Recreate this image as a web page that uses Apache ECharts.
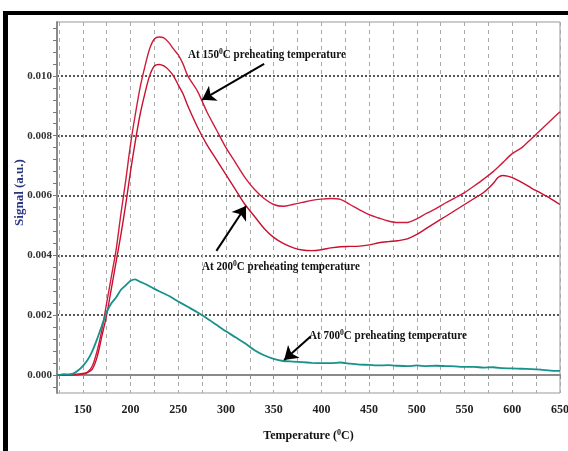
<!DOCTYPE html>
<html>
<head>
<meta charset="utf-8">
<script src="https://cdn.jsdelivr.net/npm/echarts@6/dist/echarts.min.js"></script>
<style>
  html, body { margin: 0; padding: 0; background: #fff; }
  #chart { width: 568px; height: 451px; }
</style>
</head>
<body>
<div id="chart"></div>
<script>
  // 温度 (°C) 与信号值
  const temp150 = [123, 130, 140, 150, 155, 160, 165, 170, 175, 180, 185, 190, 195, 200, 205, 210, 215, 220, 225, 230, 235, 240, 245, 250, 255, 260, 270, 280, 290, 300, 310, 320, 330, 340, 350, 360, 370, 380, 390, 400, 410, 420, 430, 440, 450, 460, 470, 480, 490, 500, 510, 520, 530, 540, 550, 560, 570, 580, 590, 600, 610, 620, 630, 640, 650];
  const signal150 = [0.00001, 0.00001, 0.00002, 0.00005, 0.0001, 0.0003, 0.0008, 0.0015, 0.0024, 0.0033, 0.0042, 0.0054, 0.0065, 0.0077, 0.0087, 0.0096, 0.0103, 0.0109, 0.01123, 0.0113, 0.01127, 0.01112, 0.0109, 0.0107, 0.0104, 0.0100, 0.0095, 0.0088, 0.0082, 0.0076, 0.0071, 0.0066, 0.0062, 0.0059, 0.0057, 0.00564, 0.0057, 0.00577, 0.00584, 0.00588, 0.0059, 0.00587, 0.0057, 0.00552, 0.00536, 0.00525, 0.00515, 0.0051, 0.0051, 0.00522, 0.0054, 0.00556, 0.00575, 0.00592, 0.0061, 0.00632, 0.00655, 0.0068, 0.0071, 0.0074, 0.0076, 0.0079, 0.0082, 0.0085, 0.0088];

  const temp200 = [123, 130, 140, 150, 155, 160, 165, 170, 175, 180, 185, 190, 195, 200, 205, 210, 215, 220, 225, 230, 235, 240, 245, 250, 255, 260, 270, 280, 290, 300, 310, 320, 330, 340, 350, 360, 370, 380, 390, 400, 410, 420, 430, 440, 450, 460, 470, 480, 490, 500, 510, 520, 530, 540, 550, 560, 570, 580, 585, 590, 595, 600, 610, 620, 630, 640, 650];
  const signal200 = [0, 0, 0, 0.00003, 0.00008, 0.0002, 0.0006, 0.0013, 0.002, 0.0029, 0.0038, 0.0047, 0.0057, 0.0068, 0.0078, 0.0087, 0.0094, 0.0100, 0.01033, 0.01038, 0.01033, 0.0102, 0.0100, 0.0097, 0.0094, 0.0090, 0.0083, 0.0077, 0.0072, 0.0067, 0.0062, 0.0057, 0.0053, 0.0049, 0.0046, 0.0044, 0.00426, 0.00418, 0.00416, 0.00419, 0.00425, 0.00429, 0.0043, 0.00431, 0.00435, 0.00442, 0.00446, 0.00449, 0.00455, 0.0047, 0.0049, 0.0051, 0.0053, 0.0055, 0.0057, 0.0059, 0.0061, 0.0064, 0.0066, 0.00667, 0.00665, 0.0066, 0.00644, 0.00625, 0.00608, 0.0059, 0.0057];

  const temp700 = [123, 125, 130, 135, 140, 145, 150, 155, 160, 165, 170, 175, 180, 185, 190, 195, 200, 205, 210, 215, 220, 225, 230, 240, 250, 260, 270, 280, 290, 300, 310, 320, 330, 340, 350, 360, 370, 380, 390, 400, 410, 420, 430, 440, 450, 460, 470, 480, 490, 500, 510, 520, 530, 540, 550, 560, 570, 580, 590, 600, 610, 620, 630, 640, 650];
  const signal700 = [0.00002, 0.0, 0.00003, 0.00002, 0.00005, 0.00015, 0.0003, 0.0005, 0.0008, 0.0012, 0.00165, 0.0021, 0.0024, 0.0026, 0.00285, 0.003, 0.00315, 0.0032, 0.00312, 0.00305, 0.00297, 0.00288, 0.0028, 0.00265, 0.00246, 0.00228, 0.0021, 0.0019, 0.00168, 0.00146, 0.00126, 0.00106, 0.00083, 0.00066, 0.00054, 0.00047, 0.00045, 0.00043, 0.00041, 0.0004, 0.0004, 0.00042, 0.00038, 0.00035, 0.00034, 0.00032, 0.00033, 0.00031, 0.0003, 0.00032, 0.0003, 0.00031, 0.0003, 0.00029, 0.00027, 0.00027, 0.00025, 0.00026, 0.00023, 0.00022, 0.00021, 0.0002, 0.00018, 0.00015, 0.00014];

  // 坐标轴刻度
  const xTicks = [125, 150, 175, 200, 225, 250, 275, 300, 325, 350, 375, 400, 425, 450, 475, 500, 525, 550, 575, 600, 625, 650];
  const xLabels = [150, 200, 250, 300, 350, 400, 450, 500, 550, 600, 650];
  const yLabels = [0, 0.002, 0.004, 0.006, 0.008, 0.010];
  const yMinorTicks = [-0.0004, 0, 0.0004, 0.0008, 0.0012, 0.0016, 0.002, 0.0024, 0.0028, 0.0032, 0.0036, 0.004, 0.0044, 0.0048, 0.0052, 0.0056, 0.006, 0.0064, 0.0068, 0.0072, 0.0076, 0.008, 0.0084, 0.0088, 0.0092, 0.0096, 0.010, 0.0104, 0.0108, 0.0112, 0.0116];

  const pair = (xs, ys) => xs.map((x, i) => [x, ys[i]])

  const chart = echarts.init(document.getElementById('chart'))
  const serif = '"Liberation Serif", "DejaVu Serif", serif'
  const noteRich = {
    a: { fontFamily: serif, fontWeight: 'bold', fontSize: 13, fill: '#111' },
    s: { fontFamily: serif, fontWeight: 'bold', fontSize: 9, fill: '#111', padding: [0, 0, 7, 0] }
  }

  const option = {
    animation: false,
    backgroundColor: '#fff',
    grid: {
      left: 57, right: 8, top: 22, bottom: 58,
      outerBoundsMode: 'none',
      containLabel: false,
      show: true,
      borderColor: '#999',
      borderWidth: 1
    },
    xAxis: {
      type: 'value',
      min: 123,
      max: 650,
      axisLine: { show: true, lineStyle: { color: '#8a8a8a', width: 2 } },
      axisTick: { show: true, customValues: xTicks, length: 4, lineStyle: { color: '#8a8a8a', width: 1 } },
      axisLabel: {
        customValues: xLabels,
        color: '#222', fontFamily: serif, fontWeight: 'bold', fontSize: 12, margin: 11
      },
      splitLine: { show: true, lineStyle: { color: '#aaa', type: [4, 4], width: 1 } },
      name: '{t|Temperature (}{s|0}{t|C)}',
      nameLocation: 'middle',
      nameGap: 36,
      nameMoveOverlap: false,
      nameTextStyle: {
        rich: {
          t: { fontFamily: serif, fontWeight: 'bold', fontSize: 12, color: '#111' },
          s: { fontFamily: serif, fontWeight: 'bold', fontSize: 8, color: '#111', padding: [0, 0, 6, 0] }
        }
      }
    },
    yAxis: [{
      type: 'value',
      min: -0.0006,
      max: 0.0118,
      axisLine: { show: true, lineStyle: { color: '#8a8a8a', width: 2 } },
      axisTick: { show: true, customValues: yMinorTicks, length: 4, lineStyle: { color: '#777', width: 1 } },
      axisLabel: {
        customValues: yLabels,
        formatter: v => v.toFixed(3),
        color: '#333', fontFamily: serif, fontWeight: 'bold', fontSize: 11, margin: 5
      },
      splitLine: { show: false },
      name: 'Signal (a.u.)',
      nameLocation: 'middle',
      nameGap: 31,
      nameMoveOverlap: false,
      nameTextStyle: {
        color: '#2a3580', fontFamily: serif, fontWeight: 'bold', fontSize: 13,
        padding: [0, 0, 0, 30]
      }
    }, {
      // 只用来画水平虚线
      type: 'value',
      min: -0.0006,
      max: 0.0118,
      position: 'left',
      axisLine: { show: false },
      axisTick: { show: false, customValues: yLabels },
      axisLabel: { show: false },
      splitLine: { show: true, lineStyle: { color: '#222', type: [2, 2], width: 1.5 } }
    }],
    series: [{
      name: '150',
      type: 'line',
      data: pair(temp150, signal150),
      showSymbol: false,
      smooth: 0.3,
      lineStyle: { color: '#d01c3c', width: 1.4 },
      z: 3
    }, {
      name: '200',
      type: 'line',
      data: pair(temp200, signal200),
      showSymbol: false,
      smooth: 0.3,
      lineStyle: { color: '#c8102e', width: 1.4 },
      z: 3
    }, {
      name: '700',
      type: 'line',
      data: pair(temp700, signal700),
      showSymbol: false,
      smooth: 0.2,
      lineStyle: { color: '#16918b', width: 1.8 },
      z: 4,
      markLine: {
        silent: true,
        symbol: ['none', 'arrow'],
        symbolSize: 13,
        label: { show: false },
        lineStyle: { color: '#000', width: 2, type: 'solid' },
        data: [
          [{ coord: [340, 0.0104] }, { coord: [275, 0.0092] }],
          [{ coord: [290, 0.00415] }, { coord: [321, 0.00565] }],
          [{ coord: [389, 0.0013] }, { coord: [361, 0.0005] }]
        ]
      }
    }],
    graphic: [
      // 外框
      { type: 'line', shape: { x1: 5.5, y1: 11, x2: 5.5, y2: 451 }, style: { stroke: '#000', lineWidth: 5 }, z: 10 },
      { type: 'line', shape: { x1: 3, y1: 13, x2: 568, y2: 13 }, style: { stroke: '#000', lineWidth: 4 }, z: 10 },
      {
        type: 'text', x: 188, y: 47, scaleX: 0.85, z: 10,
        style: { text: '{a|At 150}{s|0}{a|C preheating temperature}', rich: noteRich, verticalAlign: 'top' }
      },
      {
        type: 'text', x: 202, y: 259, scaleX: 0.85, z: 10,
        style: { text: '{a|At 200}{s|0}{a|C preheating temperature}', rich: noteRich, verticalAlign: 'top' }
      },
      {
        type: 'text', x: 309, y: 328, scaleX: 0.85, z: 10,
        style: { text: '{a|At 700}{s|0}{a|C preheating temperature}', rich: noteRich, verticalAlign: 'top' }
      }
    ]
  }

  chart.setOption(option)
</script>
</body>
</html>
